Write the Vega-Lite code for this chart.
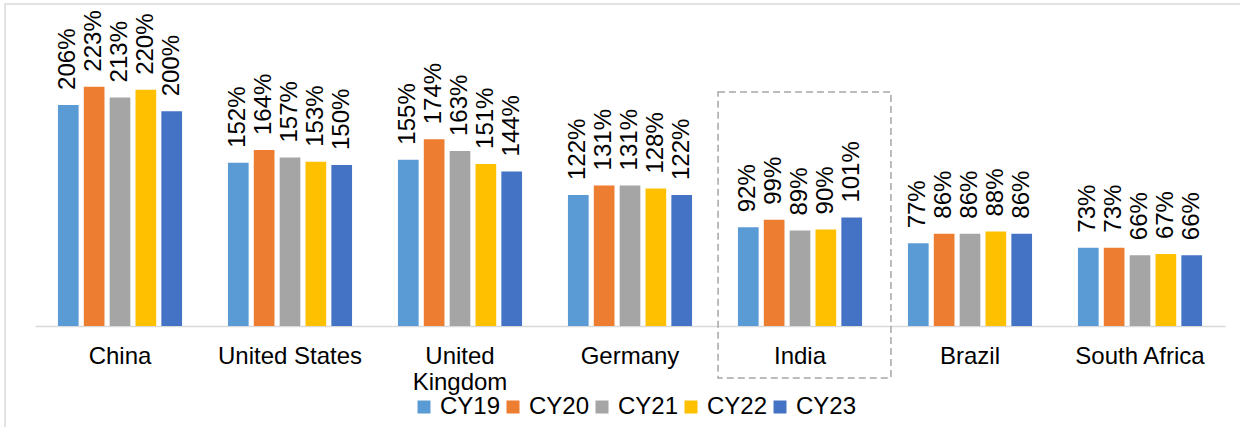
{
  "$schema": "https://vega.github.io/schema/vega-lite/v6.json",
  "width": 1190,
  "height": 322,
  "autosize": {"type": "none"},
  "padding": {"left": 35, "top": 4, "right": 15, "bottom": 101},
  "background": "white",
  "config": {"view": {"stroke": null}, "font": "Liberation Sans"},
  "resolve": {"scale": {"x": "independent"}},
  "layer": [
    {
      "data": {
        "values": [
          {"country": "China", "year": "CY19", "value": 206},
          {"country": "China", "year": "CY20", "value": 223},
          {"country": "China", "year": "CY21", "value": 213},
          {"country": "China", "year": "CY22", "value": 220},
          {"country": "China", "year": "CY23", "value": 200},
          {"country": "United States", "year": "CY19", "value": 152},
          {"country": "United States", "year": "CY20", "value": 164},
          {"country": "United States", "year": "CY21", "value": 157},
          {"country": "United States", "year": "CY22", "value": 153},
          {"country": "United States", "year": "CY23", "value": 150},
          {"country": "United Kingdom", "year": "CY19", "value": 155},
          {"country": "United Kingdom", "year": "CY20", "value": 174},
          {"country": "United Kingdom", "year": "CY21", "value": 163},
          {"country": "United Kingdom", "year": "CY22", "value": 151},
          {"country": "United Kingdom", "year": "CY23", "value": 144},
          {"country": "Germany", "year": "CY19", "value": 122},
          {"country": "Germany", "year": "CY20", "value": 131},
          {"country": "Germany", "year": "CY21", "value": 131},
          {"country": "Germany", "year": "CY22", "value": 128},
          {"country": "Germany", "year": "CY23", "value": 122},
          {"country": "India", "year": "CY19", "value": 92},
          {"country": "India", "year": "CY20", "value": 99},
          {"country": "India", "year": "CY21", "value": 89},
          {"country": "India", "year": "CY22", "value": 90},
          {"country": "India", "year": "CY23", "value": 101},
          {"country": "Brazil", "year": "CY19", "value": 77},
          {"country": "Brazil", "year": "CY20", "value": 86},
          {"country": "Brazil", "year": "CY21", "value": 86},
          {"country": "Brazil", "year": "CY22", "value": 88},
          {"country": "Brazil", "year": "CY23", "value": 86},
          {"country": "South Africa", "year": "CY19", "value": 73},
          {"country": "South Africa", "year": "CY20", "value": 73},
          {"country": "South Africa", "year": "CY21", "value": 66},
          {"country": "South Africa", "year": "CY22", "value": 67},
          {"country": "South Africa", "year": "CY23", "value": 66}
        ]
      },
      "encoding": {
        "x": {
          "field": "country",
          "type": "nominal",
          "sort": null,
          "scale": {"paddingInner": 0.27, "paddingOuter": 0.135},
          "axis": {
            "title": null,
            "ticks": false,
            "labelPadding": 18,
            "labelFontSize": 24,
            "labelColor": "#000000",
            "domainColor": "#d9d9d9",
            "domainWidth": 1.5,
            "labelAngle": 0,
            "labelLimit": 0,
            "labelLineHeight": 26,
            "labelExpr": "datum.label == 'United Kingdom' ? ['United', 'Kingdom'] : datum.label"
          }
        },
        "xOffset": {"field": "year", "type": "nominal", "scale": {"paddingInner": 0.2}},
        "y": {"field": "value", "type": "quantitative", "scale": {"domain": [0, 300], "nice": false}, "axis": null}
      },
      "layer": [
        {
          "mark": {"type": "bar"},
          "encoding": {
            "color": {
              "field": "year",
              "type": "nominal",
              "scale": {
                "domain": ["CY19", "CY20", "CY21", "CY22", "CY23"],
                "range": ["#5b9bd5", "#ed7d31", "#a5a5a5", "#ffc000", "#4472c4"]
              },
              "legend": {
                "orient": "none",
                "legendX": 377,
                "legendY": 391,
                "direction": "horizontal",
                "title": null,
                "symbolType": "square",
                "symbolSize": 169,
                "symbolStrokeWidth": 0,
                "labelFontSize": 24,
                "labelColor": "#000000",
                "labelOffset": 4,
                "columnPadding": 0
              }
            }
          }
        },
        {
          "transform": [{"calculate": "datum.value + '%'", "as": "label"}],
          "mark": {"type": "text", "angle": 270, "align": "left", "baseline": "middle", "dx": 15, "fontSize": 24, "color": "#000000"},
          "encoding": {
            "text": {"field": "label", "type": "nominal"}
          }
        }
      ]
    },
    {
      "encoding": {
        "x": {"field": "x1", "type": "quantitative", "scale": {"domain": [0, 7], "nice": false, "zero": false}, "axis": null},
        "x2": {"field": "x2"},
        "y": {"field": "top", "type": "quantitative"},
        "y2": {"field": "bottom"}
      },
      "layer": [
        {
          "data": {"values": [{"part": "frame", "x1": -0.176, "x2": 7.3, "top": 300, "bottom": -130}]},
          "mark": {"type": "rect", "fillOpacity": 0, "strokeWidth": 1.5, "stroke": "#d9d9d9"}
        },
        {
          "data": {"values": [{"part": "India highlight", "x1": 4.018, "x2": 5.035, "top": 218, "bottom": -48.4}]},
          "mark": {"type": "rect", "fillOpacity": 0, "strokeWidth": 1.5, "stroke": "#a6a6a6", "strokeDash": [7, 4]}
        }
      ]
    }
  ]
}
